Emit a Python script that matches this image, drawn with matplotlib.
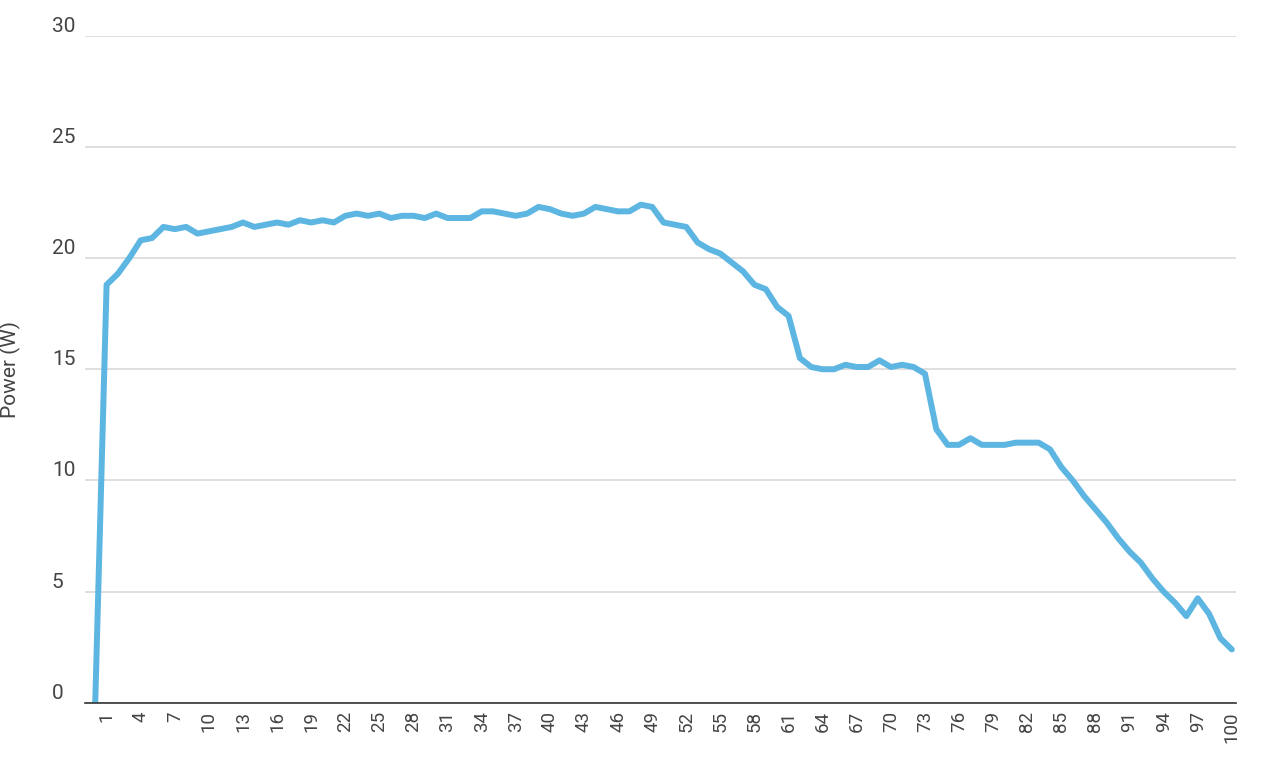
import matplotlib
matplotlib.use("Agg")
import matplotlib.pyplot as plt
import numpy as np

x_vals = list(range(0, 101))
power = [0, 18.8, 19.3, 20.0, 20.8, 20.9, 21.4, 21.3, 21.4, 21.1,
         21.2, 21.3, 21.4, 21.6, 21.4, 21.5, 21.6, 21.5, 21.7, 21.6,
         21.7, 21.6, 21.9, 22.0, 21.9, 22.0, 21.8, 21.9, 21.9, 21.8,
         22.0, 21.8, 21.8, 21.8, 22.1, 22.1, 22.0, 21.9, 22.0, 22.3,
         22.2, 22.0, 21.9, 22.0, 22.3, 22.2, 22.1, 22.1, 22.4, 22.3,
         21.6, 21.5, 21.4, 20.7, 20.4, 20.2, 19.8, 19.4, 18.8, 18.6,
         17.8, 17.4, 15.5, 15.1, 15.0, 15.0, 15.2, 15.1, 15.1, 15.4,
         15.1, 15.2, 15.1, 14.8, 12.3, 11.6, 11.6, 11.9, 11.6, 11.6,
         11.6, 11.7, 11.7, 11.7, 11.4, 10.6, 10.0, 9.3, 8.7, 8.1,
         7.4, 6.8, 6.3, 5.6, 5.0, 4.5, 3.9, 4.7, 4.0, 2.9, 2.4]
xticks = list(range(1, 101, 3))
yticks = [0, 5, 10, 15, 20, 25, 30]

plt.rcParams['font.family'] = ['Roboto', 'DejaVu Sans']
fig = plt.figure(figsize=(12.72, 7.59), dpi=100)
ax = fig.add_axes([0.067, 0.074, 0.905, 0.879])
ax.plot(x_vals, power, color='#5DB5E2', lw=4.3, solid_joinstyle='round', solid_capstyle='round')
ax.set_xlim(-0.88, 100.4)
ax.set_ylim(0, 30)
ax.set_yticks(yticks)
ax.set_xticks(xticks)
ax.set_xticklabels([str(t) for t in xticks], rotation=90, fontsize=13.5, color='#444444')
ax.set_yticklabels([str(t) for t in yticks], fontsize=15, color='#444444')
for lab in ax.get_yticklabels():
    lab.set_ha('left')
    lab.set_va('bottom')
ax.tick_params(axis='y', length=0, pad=24)
ax.tick_params(axis='x', length=0, pad=6)
ax.grid(axis='y', color='#d9d9d9', lw=1.2)
ax.set_axisbelow(True)
for s in ['top', 'right', 'left']:
    ax.spines[s].set_visible(False)
ax.spines['bottom'].set_color('#333333')
ax.spines['bottom'].set_linewidth(1.2)
ax.set_ylabel('Power (W)', fontsize=15, color='#444444', labelpad=22)
fig.savefig('out.png', dpi=100)
